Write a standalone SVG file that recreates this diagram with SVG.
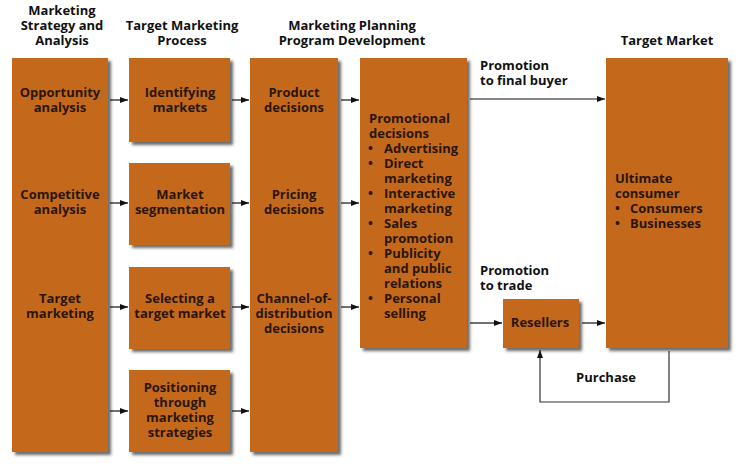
<svg xmlns="http://www.w3.org/2000/svg" width="742" height="468" viewBox="0 0 742 468">
<defs>
<filter id="sh" x="-10%" y="-10%" width="130%" height="130%">
<feDropShadow dx="3" dy="3" stdDeviation="1.5" flood-color="#3a3a3a" flood-opacity="0.75"/>
</filter>
<marker id="ah" markerUnits="userSpaceOnUse" markerWidth="9" markerHeight="7" refX="8" refY="3" orient="auto">
<path d="M0,0 L8,3 L0,6 z" fill="#111"/>
</marker>
<style>
.box{fill:#C4691F;filter:url(#sh)}
text{font-family:"Open Sans","Liberation Sans",sans-serif;font-weight:bold;font-size:13px}
.h{fill:#111;text-anchor:middle}
.t{fill:#2a1608;text-anchor:middle}
.l{fill:#2a1608}
.lbl{fill:#111}
.c line,.c path{stroke:#111;stroke-width:1.2;fill:none}
</style>
</defs>
<rect width="742" height="468" fill="#fff"/>
<g id="headers">
<text class="h" x="62" y="15">Marketing</text>
<text class="h" x="62" y="30">Strategy and</text>
<text class="h" x="62" y="45">Analysis</text>
<text class="h" x="182" y="30">Target Marketing</text>
<text class="h" x="182" y="45">Process</text>
<text class="h" x="352" y="30">Marketing Planning</text>
<text class="h" x="352" y="45">Program Development</text>
<text class="h" x="667" y="45">Target Market</text>
</g>
<g id="strategy">
<rect class="box" x="12" y="58" width="96" height="394"/>
<text class="t" x="60" y="97">Opportunity</text>
<text class="t" x="60" y="112">analysis</text>
<text class="t" x="60" y="199">Competitive</text>
<text class="t" x="60" y="214">analysis</text>
<text class="t" x="60" y="303">Target</text>
<text class="t" x="60" y="318">marketing</text>
</g>
<g id="identifying">
<rect class="box" x="129" y="58" width="101" height="84"/>
<text class="t" x="180" y="97">Identifying</text>
<text class="t" x="180" y="112">markets</text>
</g>
<g id="segmentation">
<rect class="box" x="129" y="163" width="101" height="82"/>
<text class="t" x="180" y="199">Market</text>
<text class="t" x="180" y="214">segmentation</text>
</g>
<g id="selecting">
<rect class="box" x="129" y="267" width="101" height="82"/>
<text class="t" x="180" y="303">Selecting a</text>
<text class="t" x="180" y="318">target market</text>
</g>
<g id="positioning">
<rect class="box" x="129" y="370" width="101" height="82"/>
<text class="t" x="180" y="392">Positioning</text>
<text class="t" x="180" y="407">through</text>
<text class="t" x="180" y="422">marketing</text>
<text class="t" x="180" y="437">strategies</text>
</g>
<g id="program">
<rect class="box" x="250" y="58" width="88" height="394"/>
<text class="t" x="294" y="97">Product</text>
<text class="t" x="294" y="112">decisions</text>
<text class="t" x="294" y="199">Pricing</text>
<text class="t" x="294" y="214">decisions</text>
<text class="t" x="294" y="303">Channel-of-</text>
<text class="t" x="294" y="318">distribution</text>
<text class="t" x="294" y="333">decisions</text>
</g>
<g id="promotional">
<rect class="box" x="360" y="58" width="107" height="290"/>
<text class="l" x="369" y="123">Promotional</text>
<text class="l" x="369" y="138">decisions</text>
<text class="l" x="368" y="153">•</text><text class="l" x="384" y="153">Advertising</text>
<text class="l" x="368" y="168">•</text><text class="l" x="384" y="168">Direct</text>
<text class="l" x="384" y="183">marketing</text>
<text class="l" x="368" y="198">•</text><text class="l" x="384" y="198">Interactive</text>
<text class="l" x="384" y="213">marketing</text>
<text class="l" x="368" y="228">•</text><text class="l" x="384" y="228">Sales</text>
<text class="l" x="384" y="243">promotion</text>
<text class="l" x="368" y="258">•</text><text class="l" x="384" y="258">Publicity</text>
<text class="l" x="384" y="273">and public</text>
<text class="l" x="384" y="288">relations</text>
<text class="l" x="368" y="303">•</text><text class="l" x="384" y="303">Personal</text>
<text class="l" x="384" y="318">selling</text>
</g>
<g id="resellers">
<rect class="box" x="503" y="299" width="76" height="49"/>
<text class="t" x="540" y="327">Resellers</text>
</g>
<g id="target-market">
<rect class="box" x="606" y="58" width="122" height="290"/>
<text class="l" x="615" y="183">Ultimate</text>
<text class="l" x="615" y="198">consumer</text>
<text class="l" x="615" y="213">•</text><text class="l" x="630" y="213">Consumers</text>
<text class="l" x="615" y="228">•</text><text class="l" x="630" y="228">Businesses</text>
</g>
<g id="connectors" class="c">
<line x1="110" y1="100" x2="128" y2="100" marker-end="url(#ah)"/>
<line x1="110" y1="203" x2="128" y2="203" marker-end="url(#ah)"/>
<line x1="110" y1="307" x2="128" y2="307" marker-end="url(#ah)"/>
<line x1="110" y1="411" x2="128" y2="411" marker-end="url(#ah)"/>
<line x1="232" y1="100" x2="249" y2="100" marker-end="url(#ah)"/>
<line x1="232" y1="203" x2="249" y2="203" marker-end="url(#ah)"/>
<line x1="232" y1="307" x2="249" y2="307" marker-end="url(#ah)"/>
<line x1="232" y1="411" x2="249" y2="411" marker-end="url(#ah)"/>
<line x1="341" y1="100" x2="359" y2="100" marker-end="url(#ah)"/>
<line x1="341" y1="203" x2="359" y2="203" marker-end="url(#ah)"/>
<line x1="341" y1="307" x2="359" y2="307" marker-end="url(#ah)"/>
<line x1="470" y1="99" x2="605" y2="99" marker-end="url(#ah)"/>
<line x1="470" y1="323" x2="502" y2="323" marker-end="url(#ah)"/>
<line x1="582" y1="323" x2="605" y2="323" marker-end="url(#ah)"/>
<path d="M669,351 V402 H540 V350" marker-end="url(#ah)" style="stroke:#333"/>
</g>
<g id="labels">
<text class="lbl" x="480" y="70">Promotion</text>
<text class="lbl" x="480" y="85">to final buyer</text>
<text class="lbl" x="480" y="275">Promotion</text>
<text class="lbl" x="480" y="290">to trade</text>
<text class="lbl" x="606" y="382" text-anchor="middle">Purchase</text>
</g>
</svg>
